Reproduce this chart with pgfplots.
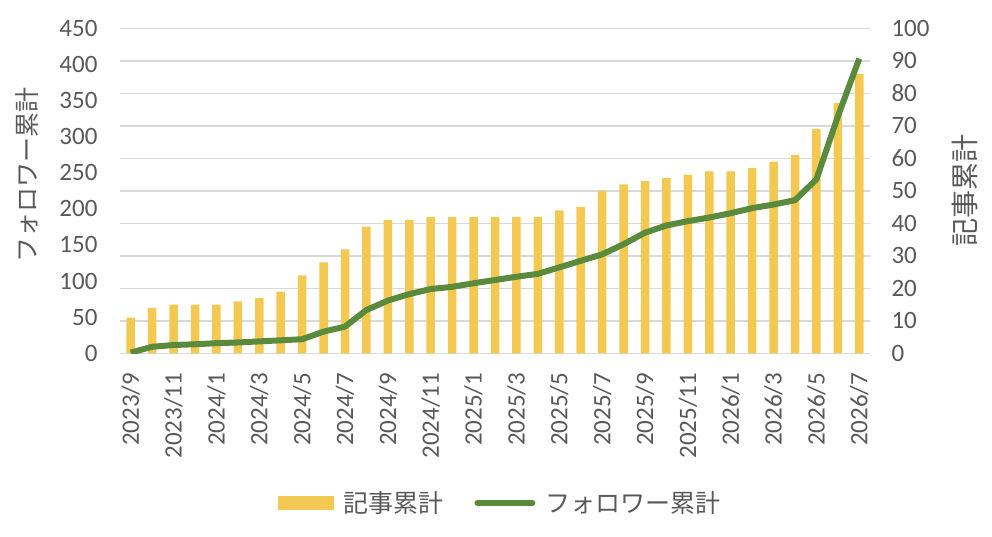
\documentclass[border=0pt]{standalone}
\usepackage{fontspec}
\setmainfont{Carlito}
\newfontfamily\jp{Noto Sans CJK JP}
\usepackage{pgfplots}
\usepackage{pgfplotstable}
\pgfplotsset{compat=1.18}
\definecolor{barc}{HTML}{F4C951}
\definecolor{linec}{HTML}{5A8A3C}
\definecolor{txt}{HTML}{595959}
\definecolor{gridc}{HTML}{D9D9D9}

\pgfplotstableread{
x a f
0 11 1
1 14 9
2 15 11.5
3 15 12.5
4 15 14
5 16 15
6 17 16.5
7 19 18
8 24 19.5
9 28 30
10 32 37
11 39 60
12 41 73
13 41 82
14 42 89
15 42 92
16 42 97
17 42 101.5
18 42 106
19 42 110
20 44 119
21 45 128
22 50 137
23 52 151
24 53 167
25 54 177
26 55 183
27 56 188
28 56 194
29 57 201
30 59 206
31 61 212
32 69 241
33 77 328
34 86 408
}\data

\begin{document}
\begin{tikzpicture}[x=1pt,y=1pt]
\path[use as bounding box] (0,0) rectangle (992,536);
\begin{axis}[
  at={(120pt,182.7pt)}, anchor=south west,
  scale only axis, width=750pt, height=325pt,
  xmin=-0.5, xmax=34.5, ymin=0, ymax=100,
  axis y line*=right, axis x line*=bottom,
  x axis line style={gridc, line width=1.5pt, -},
  y axis line style={draw=none},
  xtick={0,2,...,34},
  xticklabels={2023/9,2023/11,2024/1,2024/3,2024/5,2024/7,2024/9,2024/11,2025/1,2025/3,2025/5,2025/7,2025/9,2025/11,2026/1,2026/3,2026/5,2026/7},
  xticklabel style={rotate=90, anchor=east},
  xticklabel shift=16pt,
  ytick={0,10,...,100},
  yticklabel shift=18pt,
  ymajorgrids, grid style={gridc, line width=1.5pt},
  major tick length=0pt,
  tick label style={font=\fontsize{25}{29}\selectfont, text=txt},
  /pgf/number format/assume math mode=true,
  ylabel={記事累計},
  ylabel style={at={(axis description cs:1.1267,0.5)}, anchor=center, font=\jp\fontsize{28}{32}\selectfont, text=txt},
  ybar, bar width=8.5pt,
]
\addplot[fill=barc, draw=none] table[x=x,y=a]{\data};
\end{axis}
\begin{axis}[
  at={(120pt,182.7pt)}, anchor=south west,
  scale only axis, width=750pt, height=325pt,
  xmin=-0.5, xmax=34.5, ymin=0, ymax=450,
  axis y line*=left, axis x line=none,
  y axis line style={draw=none},
  ytick={0,50,...,450},
  yticklabel shift=19pt,
  major tick length=0pt,
  tick label style={font=\fontsize{25}{29}\selectfont, text=txt},
  /pgf/number format/assume math mode=true,
  ylabel={フォロワー累計},
  ylabel style={at={(axis description cs:-0.124,0.549)}, anchor=center, font=\jp\fontsize{25}{30}\selectfont, text=txt},
  legend columns=2,
  legend style={at={(axis description cs:0.507,-0.4606)}, anchor=center, draw=none, fill=none,
    font=\jp\fontsize{25}{30}\selectfont, text=txt,
    /tikz/every odd column/.append style={column sep=8pt},
    /tikz/every even column/.append style={column sep=29pt}},
  legend entries={記事累計,フォロワー累計},
]
\addlegendimage{legend image code/.code={\fill[barc] (0pt,-6.5pt) rectangle (55pt,6.5pt);}}
\addplot[linec, line width=6pt, line join=round,
  legend image code/.code={\draw[linec, line width=6pt, line cap=round] (3pt,0pt) -- (58pt,0pt);}]
  table[x=x,y=f]{\data};
\end{axis}
\end{tikzpicture}
\end{document}
